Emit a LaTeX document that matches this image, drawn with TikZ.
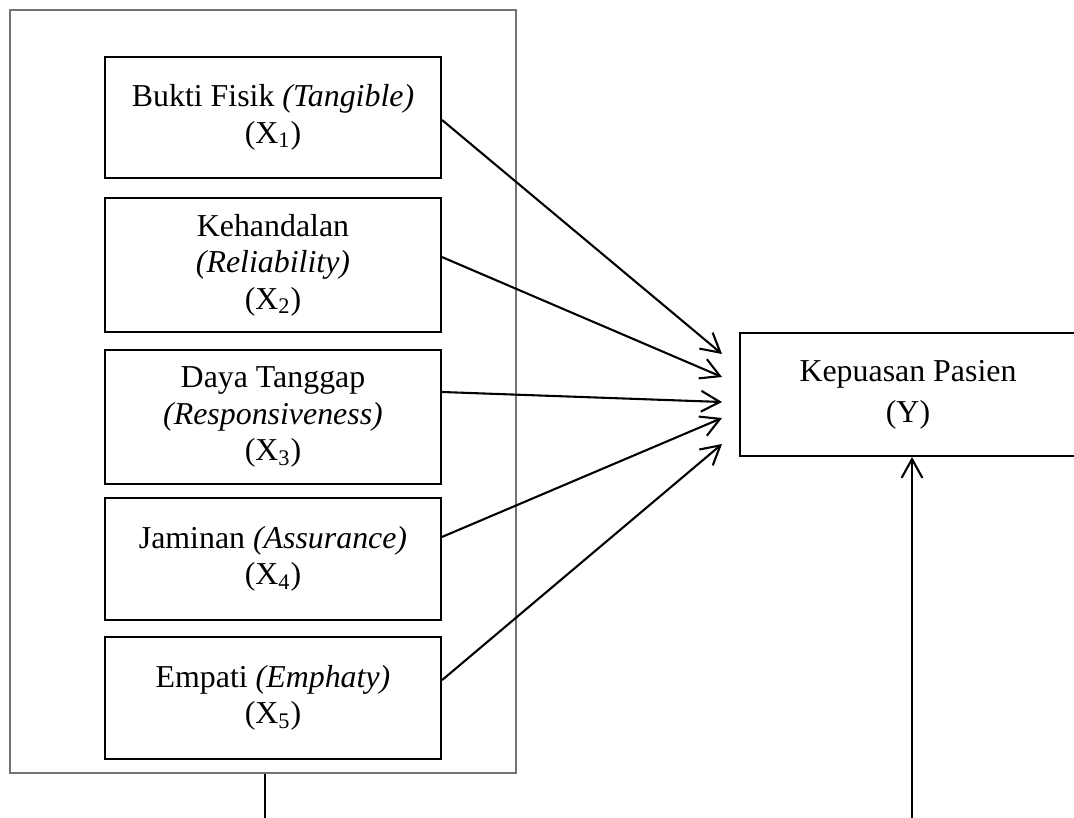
\documentclass[tikz,border=0pt]{standalone}
\usepackage{fontspec}
\setmainfont{Liberation Serif}
\usetikzlibrary{arrows.meta}

\tikzset{
  dimbox/.style={draw=black,line width=1pt,minimum width=161.3pt,align=center,inner sep=2pt,font=\fontsize{15.3}{17.5}\selectfont},
  linkarrow/.style={line width=1pt,-{Straight Barb[length=9pt,width=10pt]}}
}

\begin{document}
\begin{tikzpicture}[x=0.48pt,y=-0.48pt]
\useasboundingbox (0,0) rectangle (1074,818);
% outer frame of the five dimensions
\node[draw=black!55,line width=0.7pt,minimum width=242.9pt,minimum height=366.2pt] (grp) at (263,391.5) {};
\node[dimbox,minimum height=58.1pt] (x1) at (273,117.5) {Bukti Fisik \textit{(Tangible)}\\(X\textsubscript{1})};
\node[dimbox,minimum height=64.3pt] (x2) at (273,265) {Kehandalan\\\textit{(Reliability)}\\(X\textsubscript{2})};
\node[dimbox,minimum height=64.3pt] (x3) at (273,417) {Daya Tanggap\\\textit{(Responsiveness)}\\(X\textsubscript{3})};
\node[dimbox,minimum height=58.6pt] (x4) at (273,559) {Jaminan \textit{(Assurance)}\\(X\textsubscript{4})};
\node[dimbox,minimum height=58.6pt] (x5) at (273,698) {Empati \textit{(Emphaty)}\\(X\textsubscript{5})};
\node[dimbox,minimum height=59pt,font=\fontsize{15.3}{19.7}\selectfont] (ky) at (908,394.5) {Kepuasan Pasien\\(Y)};
% arrow tips
\coordinate (t1) at (722,354);
\coordinate (t2) at (722,377);
\coordinate (t3) at (722,402);
\coordinate (t4) at (722,418);
\coordinate (t5) at (722,444);
\draw[linkarrow] ([yshift=-1.2pt]x1.east) -- (t1);
\draw[linkarrow] ([yshift=3.8pt]x2.east) -- (t2);
\draw[linkarrow] ([yshift=12pt]x3.east) -- (t3);
\draw[linkarrow] ([yshift=10.6pt]x4.east) -- (t4);
\draw[linkarrow] ([yshift=8.6pt]x5.east) -- (t5);
% lines from the bottom edge
\coordinate (b1) at (265,818);
\coordinate (b2) at (912,818);
\draw[line width=1pt] (b1 |- grp.south) -- (b1);
\draw[linkarrow] (b2) -- (b2 |- ky.south);
\end{tikzpicture}
\end{document}
